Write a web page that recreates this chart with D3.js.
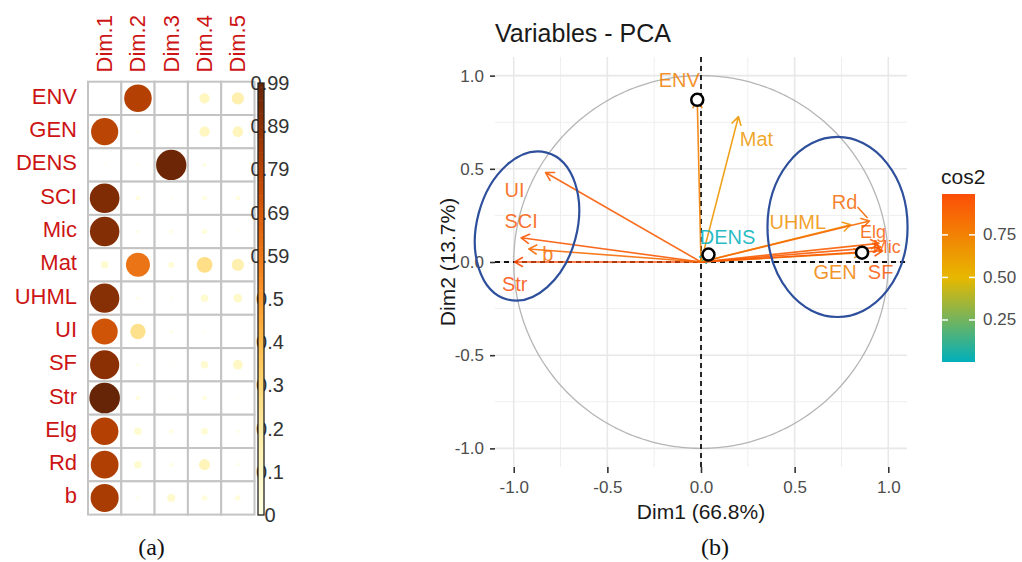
<!DOCTYPE html>
<html>
<head>
<meta charset="utf-8">
<script src="https://cdn.jsdelivr.net/npm/d3@7"></script>
<style>
  body { margin: 0; background: #fff; }
  svg { display: block; font-family: "Liberation Sans", Arial, sans-serif; }
</style>
</head>
<body>
<svg id="fig" width="1022" height="562"></svg>
<script>
// ---------- (a) squared cosines of the variables on the first five dimensions ----------
const dims = ["Dim.1", "Dim.2", "Dim.3", "Dim.4", "Dim.5"];
const vars = ["ENV", "GEN", "DENS", "SCI", "Mic", "Mat", "UHML", "UI", "SF", "Str", "Elg", "Rd", "b"];
const cos2Dim1 = [0.002, 0.78, 0.003, 0.93, 0.92, 0.06, 0.91, 0.72, 0.90, 0.99, 0.80, 0.81, 0.83];
const cos2Dim2 = [0.80, 0.004, 0.005, 0.02, 0.01, 0.61, 0.01, 0.25, 0.01, 0.02, 0.06, 0.06, 0.01];
const cos2Dim3 = [0.002, 0.001, 0.97, 0.005, 0.015, 0.04, 0.006, 0.01, 0.003, 0.003, 0.02, 0.015, 0.07];
const cos2Dim4 = [0.11, 0.11, 0.015, 0.02, 0.03, 0.26, 0.06, 0.004, 0.06, 0.02, 0.05, 0.13, 0.03];
const cos2Dim5 = [0.16, 0.12, 0.002, 0.02, 0.003, 0.16, 0.08, 0.002, 0.10, 0.003, 0.01, 0.01, 0.03];
const cos2Series = [cos2Dim1, cos2Dim2, cos2Dim3, cos2Dim4, cos2Dim5];
const barMax = 0.99;
const barTicks = [0, 0.099, 0.198, 0.297, 0.396, 0.495, 0.594, 0.693, 0.792, 0.891, 0.99];
const barTickLabels = ["0", "0.1", "0.2", "0.3", "0.4", "0.5", "0.59", "0.69", "0.79", "0.89", "0.99"];

// ---------- (b) variable coordinates on Dim1 / Dim2 ----------
const pcaVars = ["ENV", "GEN", "DENS", "SCI", "Mic", "Mat", "UHML", "UI", "SF", "Str", "Elg", "Rd", "b"];
const pcaDim1 = [-0.02, 0.86, 0.04, -0.96, 0.96, 0.20, 0.80, -0.83, 0.97, -0.995, 0.95, 0.90, -0.92];
const pcaDim2 = [0.87, 0.05, 0.04, 0.13, 0.08, 0.78, 0.20, 0.48, 0.06, 0.00, 0.10, 0.22, 0.07];
const markedVars = ["ENV", "DENS", "GEN"];
const gridMajor = [-1, -0.5, 0, 0.5, 1];
const gridMinor = [-0.75, -0.25, 0.25, 0.75];
const legendTicks = [0.25, 0.50, 0.75];

// label placement around arrow tips (pixels)
const labelNudge = {
  ENV: [-18, -20], GEN: [-27, 19], DENS: [19, -18], SCI: [0, -17], Mic: [6, 0],
  Mat: [18, 22], UHML: [-53, -3], UI: [-31, 17], SF: [-2, 21], Str: [0, 22],
  Elg: [-6, -11], Rd: [-25, -19], b: [19, 5]
};
const linkedLabels = ["Rd"];
// hand-drawn group outlines (data units, tilt in degrees)
const groupRings = [
  { cx: -0.929, cy: 0.193, rx: 0.267, ry: 0.408, tilt: 15 },
  { cx: 0.729, cy: 0.188, rx: 0.374, ry: 0.483, tilt: 0 }
];

const svg = d3.select("#fig");
svg.append("rect").attr("width", 1022).attr("height", 562).attr("fill", "#fff");

// ================= panel (a) =================
const gA = svg.append("g");
const colX = d3.scaleBand().domain(dims).range([88, 254.5]);
const rowY = d3.scaleBand().domain(vars).range([81.7, 514.6]);
const fillA = d3.scaleSequential(d3.interpolateYlOrBr).domain([0, barMax]);
const rA = d3.scaleSqrt().domain([0, barMax]).range([0, 0.46 * colX.bandwidth()]);

const cells = [];
vars.forEach((v, i) => dims.forEach((d, j) => cells.push({ v, d, val: cos2Series[j][i] })));

gA.selectAll("rect.cell").data(cells).join("rect")
  .attr("class", "cell")
  .attr("x", c => colX(c.d)).attr("y", c => rowY(c.v))
  .attr("width", colX.bandwidth()).attr("height", rowY.bandwidth())
  .attr("fill", "#fff").attr("stroke", "#c4c4c4").attr("stroke-width", 2);

gA.selectAll("circle.dot").data(cells).join("circle")
  .attr("class", "dot")
  .attr("cx", c => colX(c.d) + colX.bandwidth() / 2)
  .attr("cy", c => rowY(c.v) + rowY.bandwidth() / 2)
  .attr("r", c => rA(c.val))
  .attr("fill", c => fillA(c.val));

gA.selectAll("text.row").data(vars).join("text")
  .attr("class", "row")
  .attr("x", 77).attr("y", v => rowY(v) + rowY.bandwidth() / 2 - 2)
  .attr("text-anchor", "end").attr("dominant-baseline", "central")
  .attr("font-size", 22).attr("fill", "#cc1414").text(v => v);

gA.selectAll("text.col").data(dims).join("text")
  .attr("class", "col")
  .attr("transform", d => `translate(${colX(d) + colX.bandwidth() / 2},72.5) rotate(-90)`)
  .attr("text-anchor", "start").attr("dominant-baseline", "central")
  .attr("font-size", 22).attr("fill", "#cc1414").text(d => d);

// colour bar
const barY = d3.scaleLinear().domain([0, barMax]).range([515, 83]);
gA.selectAll("text.bar").data(barTicks).join("text")
  .attr("class", "bar")
  .attr("x", 270).attr("y", t => barY(t))
  .attr("text-anchor", "middle").attr("dominant-baseline", "central")
  .attr("font-size", 20).attr("fill", "#333").text((t, i) => barTickLabels[i]);

const steps = d3.range(100).map(k => k / 100 * barMax);
gA.selectAll("rect.step").data(steps).join("rect")
  .attr("class", "step")
  .attr("x", 258).attr("width", 6)
  .attr("y", s => barY(s + barMax / 100))
  .attr("height", s => barY(s) - barY(s + barMax / 100) + 0.5)
  .attr("fill", s => fillA(s + barMax / 200));
gA.append("rect").attr("x", 258).attr("y", barY(barMax)).attr("width", 6)
  .attr("height", barY(0) - barY(barMax))
  .attr("fill", "none").attr("stroke", "#222").attr("stroke-width", 1.3);

gA.append("text").attr("x", 151.5).attr("y", 547)
  .attr("text-anchor", "middle").attr("dominant-baseline", "central")
  .attr("font-family", "'Liberation Serif', 'DejaVu Serif', serif")
  .attr("font-size", 24).attr("fill", "#111").text("(a)");

// ================= panel (b) =================
const gB = svg.append("g");
const xS = d3.scaleLinear().domain([-1.1, 1.1]).range([495, 907]);
const yS = d3.scaleLinear().domain([-1.1, 1.1]).range([467, 57]);

// grid
const grid = gB.append("g");
grid.selectAll("line.vmin").data(gridMinor).join("line")
  .attr("x1", d => xS(d)).attr("x2", d => xS(d)).attr("y1", yS(1.1)).attr("y2", yS(-1.1))
  .attr("stroke", "#efefef").attr("stroke-width", 1);
grid.selectAll("line.hmin").data(gridMinor).join("line")
  .attr("y1", d => yS(d)).attr("y2", d => yS(d)).attr("x1", xS(-1.1)).attr("x2", xS(1.1))
  .attr("stroke", "#efefef").attr("stroke-width", 1);
grid.selectAll("line.vmaj").data(gridMajor).join("line")
  .attr("x1", d => xS(d)).attr("x2", d => xS(d)).attr("y1", yS(1.1)).attr("y2", yS(-1.1))
  .attr("stroke", "#e8e8e8").attr("stroke-width", 1.6);
grid.selectAll("line.hmaj").data(gridMajor).join("line")
  .attr("y1", d => yS(d)).attr("y2", d => yS(d)).attr("x1", xS(-1.1)).attr("x2", xS(1.1))
  .attr("stroke", "#e8e8e8").attr("stroke-width", 1.6);

// axes
const fmt = d => d.toFixed(1);
const axL = gB.append("g").attr("transform", `translate(${xS(-1.1)},0)`)
  .call(d3.axisLeft(yS).tickValues(gridMajor).tickFormat(fmt).tickSize(5).tickPadding(6));
const axB = gB.append("g").attr("transform", `translate(0,${yS(-1.1)})`)
  .call(d3.axisBottom(xS).tickValues(gridMajor).tickFormat(fmt).tickSize(6).tickPadding(8));
[axL, axB].forEach(ax => {
  ax.select(".domain").remove();
  ax.selectAll(".tick line").attr("stroke", "#333").attr("stroke-width", 1.6);
  ax.selectAll(".tick text").attr("font-size", 17).attr("fill", "#4d4d4d")
    .attr("font-family", "'Liberation Sans', Arial, sans-serif");
});

// unit circle
const circ = d3.range(0, 361).map(a => [Math.cos(a * Math.PI / 180), Math.sin(a * Math.PI / 180)]);
gB.append("path")
  .attr("d", d3.line().x(p => xS(p[0])).y(p => yS(p[1]))(circ))
  .attr("fill", "none").attr("stroke", "#b5b5b5").attr("stroke-width", 1.3);

// reference lines
gB.append("line").attr("x1", xS(-1.1)).attr("x2", xS(1.1)).attr("y1", yS(0)).attr("y2", yS(0))
  .attr("stroke", "#111").attr("stroke-width", 1.8).attr("stroke-dasharray", "5,4");
gB.append("line").attr("x1", xS(0)).attr("x2", xS(0)).attr("y1", yS(1.1)).attr("y2", yS(-1.1))
  .attr("stroke", "#111").attr("stroke-width", 1.8).attr("stroke-dasharray", "5,4");

// arrows coloured by cos2
const pts = pcaVars.map((v, i) => ({ v, x: pcaDim1[i], y: pcaDim2[i], c2: pcaDim1[i] ** 2 + pcaDim2[i] ** 2 }));
const cmin = d3.min(pts, p => p.c2), cmax = d3.max(pts, p => p.c2);
const colB = d3.scaleLinear().domain([cmin, (cmin + cmax) / 2, cmax])
  .range(["#00AFBB", "#E7B800", "#FC4E07"]);

const arrowPath = p => {
  const x0 = xS(0), y0 = yS(0), x1 = xS(p.x), y1 = yS(p.y);
  const th = Math.atan2(y1 - y0, x1 - x0), L = 9, a = Math.PI / 6;
  const h1 = [x1 - L * Math.cos(th - a), y1 - L * Math.sin(th - a)];
  const h2 = [x1 - L * Math.cos(th + a), y1 - L * Math.sin(th + a)];
  return `M${x0},${y0}L${x1},${y1}M${h1[0]},${h1[1]}L${x1},${y1}L${h2[0]},${h2[1]}`;
};
gB.selectAll("path.arrow").data(pts).join("path")
  .attr("class", "arrow").attr("d", arrowPath)
  .attr("fill", "none").attr("stroke", p => colB(p.c2)).attr("stroke-width", 1.6)
  .attr("stroke-opacity", 0.9)
  .attr("stroke-linejoin", "round").attr("stroke-linecap", "round");

// marked tips
gB.selectAll("circle.mark").data(pts.filter(p => markedVars.includes(p.v))).join("circle")
  .attr("class", "mark").attr("cx", p => xS(p.x)).attr("cy", p => yS(p.y)).attr("r", 6)
  .attr("fill", "#fff").attr("stroke", "#000").attr("stroke-width", 2.5);

// label links
gB.selectAll("line.link").data(pts.filter(p => linkedLabels.includes(p.v))).join("line")
  .attr("class", "link")
  .attr("x1", p => xS(p.x) + labelNudge[p.v][0] + 13).attr("y1", p => yS(p.y) + labelNudge[p.v][1] + 5)
  .attr("x2", p => xS(p.x) - 2).attr("y2", p => yS(p.y) - 3)
  .attr("stroke", p => colB(p.c2)).attr("stroke-width", 1.2);

// labels
gB.selectAll("text.lab").data(pts).join("text")
  .attr("class", "lab")
  .attr("x", p => xS(p.x) + labelNudge[p.v][0]).attr("y", p => yS(p.y) + labelNudge[p.v][1])
  .attr("text-anchor", "middle").attr("dominant-baseline", "central")
  .attr("font-size", p => (p.v === "Mic" || p.v === "Elg") ? 18 : 20)
  .attr("fill", p => colB(p.c2)).attr("fill-opacity", 0.85).text(p => p.v);

// group outlines
gB.selectAll("ellipse.ring").data(groupRings).join("ellipse")
  .attr("class", "ring")
  .attr("cx", g => xS(g.cx)).attr("cy", g => yS(g.cy))
  .attr("rx", g => xS(g.rx) - xS(0)).attr("ry", g => yS(0) - yS(g.ry))
  .attr("transform", g => `rotate(${g.tilt},${xS(g.cx)},${yS(g.cy)})`)
  .attr("fill", "none").attr("stroke", "#2d4f9c").attr("stroke-width", 2.2);

// titles
gB.append("text").attr("x", 495).attr("y", 42).attr("font-size", 25).attr("fill", "#1a1a1a")
  .text("Variables - PCA");
gB.append("text").attr("x", xS(0)).attr("y", 519).attr("text-anchor", "middle")
  .attr("font-size", 21).attr("fill", "#1a1a1a").text("Dim1 (66.8%)");
gB.append("text").attr("transform", `translate(447,${yS(0)}) rotate(-90)`)
  .attr("text-anchor", "middle").attr("dominant-baseline", "central")
  .attr("font-size", 21).attr("fill", "#1a1a1a").text("Dim2 (13.7%)");

// cos2 legend
const legY = d3.scaleLinear().domain([cmin, cmax]).range([362, 194]);
const grad = svg.append("defs").append("linearGradient").attr("id", "cos2grad")
  .attr("x1", 0).attr("x2", 0).attr("y1", 1).attr("y2", 0);
d3.range(0, 1.0001, 0.1).forEach(t => {
  grad.append("stop").attr("offset", t).attr("stop-color", colB(cmin + t * (cmax - cmin)));
});
const gL = svg.append("g");
gL.append("text").attr("x", 941).attr("y", 184).attr("font-size", 21).attr("fill", "#1a1a1a").text("cos2");
gL.append("rect").attr("x", 942).attr("y", legY(cmax)).attr("width", 33)
  .attr("height", legY(cmin) - legY(cmax)).attr("fill", "url(#cos2grad)");
legendTicks.forEach(t => {
  gL.append("line").attr("x1", 942).attr("x2", 948).attr("y1", legY(t)).attr("y2", legY(t))
    .attr("stroke", "#fff").attr("stroke-width", 1.5);
  gL.append("line").attr("x1", 969).attr("x2", 975).attr("y1", legY(t)).attr("y2", legY(t))
    .attr("stroke", "#fff").attr("stroke-width", 1.5);
});
gL.selectAll("text.lt").data(legendTicks).join("text")
  .attr("class", "lt").attr("x", 983).attr("y", t => legY(t))
  .attr("dominant-baseline", "central").attr("font-size", 17).attr("fill", "#4d4d4d")
  .text(t => t.toFixed(2));

svg.append("text").attr("x", 715).attr("y", 547)
  .attr("text-anchor", "middle").attr("dominant-baseline", "central")
  .attr("font-family", "'Liberation Serif', 'DejaVu Serif', serif")
  .attr("font-size", 24).attr("fill", "#111").text("(b)");
</script>
</body>
</html>
